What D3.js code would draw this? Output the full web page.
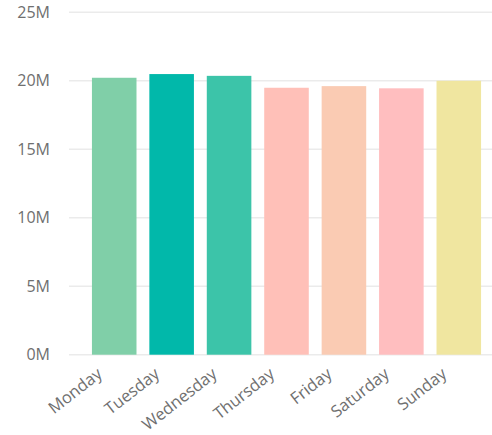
<!DOCTYPE html>
<html>
<head>
<meta charset="utf-8">
<script src="https://cdn.jsdelivr.net/npm/d3@7"></script>
<style>
  body { margin: 0; background: #fff; }
  text { font-family: "Open Sans", "Noto Sans", sans-serif; fill: #6f6f6f; }
</style>
</head>
<body>
<script>
const days = ['Monday', 'Tuesday', 'Wednesday', 'Thursday', 'Friday', 'Saturday', 'Sunday'];
const values = [20.22, 20.49, 20.36, 19.49, 19.61, 19.45, 20.0]; // millions
const colors = ['#80CFA8', '#01B8AA', '#3CC4A9', '#FFC0B8', '#FACBB3', '#FFBEBF', '#F0E6A0'];
const yTicks = [0, 5, 10, 15, 20, 25];

const width = 492;
const height = 435;

const svg = d3.select('body')
  .append('svg')
  .attr('width', width)
  .attr('height', height);

const x = d3.scaleBand()
  .domain(days)
  .range([85.5, 487.5])
  .paddingInner(0.224)
  .paddingOuter(0.112);

const y = d3.scaleLinear()
  .domain([0, 25])
  .range([354.7, 12.3]);

// gridlines
svg.append('g')
  .selectAll('line')
  .data(yTicks)
  .enter().append('line')
  .attr('x1', 69)
  .attr('x2', width)
  .attr('y1', d => y(d))
  .attr('y2', d => y(d))
  .attr('stroke', '#ebebeb')
  .attr('stroke-width', 1.5);

// y labels
svg.append('g')
  .selectAll('text')
  .data(yTicks)
  .enter().append('text')
  .attr('x', 50)
  .attr('y', d => y(d))
  .attr('dy', '0.35em')
  .attr('text-anchor', 'end')
  .style('font-size', '16px')
  .text(d => d + 'M');

// bars
svg.append('g')
  .selectAll('rect')
  .data(days)
  .enter().append('rect')
  .attr('x', d => x(d))
  .attr('width', x.bandwidth())
  .attr('y', (d, i) => y(values[i]))
  .attr('height', (d, i) => y(0) - y(values[i]))
  .attr('fill', (d, i) => colors[i]);

// x labels
svg.append('g')
  .selectAll('text')
  .data(days)
  .enter().append('text')
  .attr('transform', d => `translate(${x(d) + x.bandwidth() / 2 - 11},${376}) rotate(-38)`)
  .attr('text-anchor', 'end')
  .style('font-size', '16.5px')
  .text(d => d);
</script>
</body>
</html>
